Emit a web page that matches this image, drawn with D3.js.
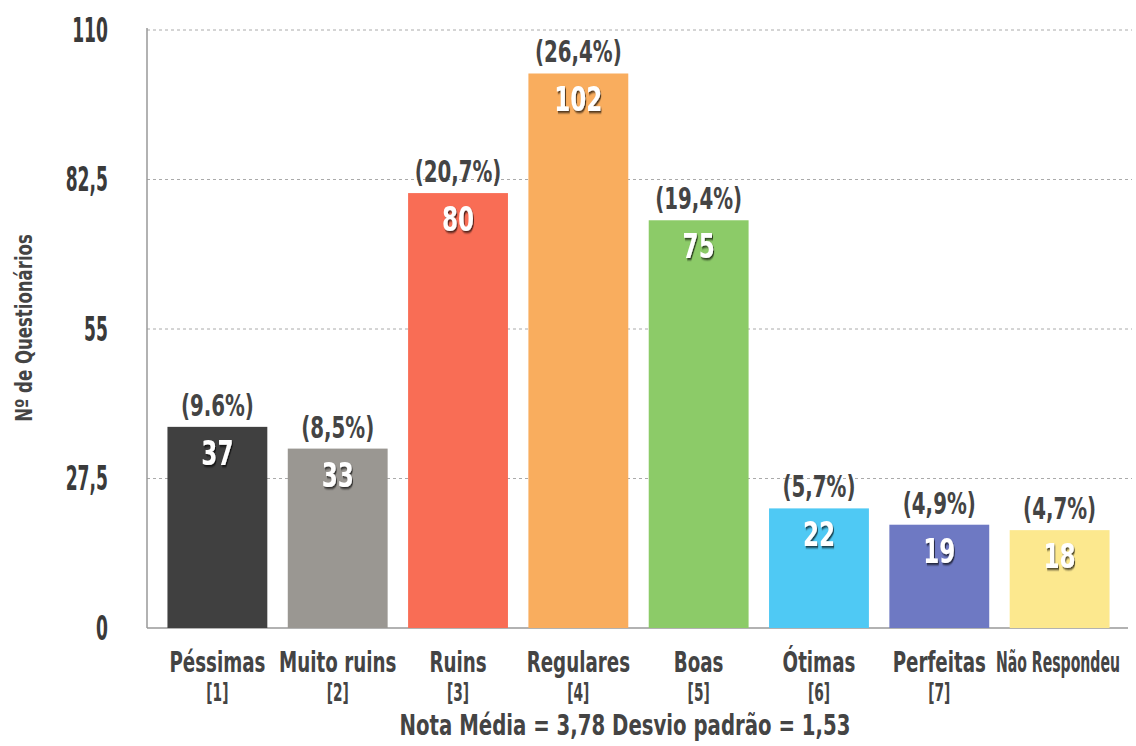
<!DOCTYPE html>
<html>
<head>
<meta charset="utf-8">
<script src="https://cdn.jsdelivr.net/npm/d3@7"></script>
<style>
  body { margin: 0; background: #fff; }
  text { font-family: "DejaVu Sans", sans-serif; font-weight: bold; }
</style>
</head>
<body>
<div id="chart"></div>
<script>
const categories = ["Péssimas", "Muito ruins", "Ruins", "Regulares", "Boas", "Ótimas", "Perfeitas", "Não Respondeu"]
const codes = ["[1]", "[2]", "[3]", "[4]", "[5]", "[6]", "[7]", ""]
const values = [37, 33, 80, 102, 75, 22, 19, 18]
const percents = ["(9.6%)", "(8,5%)", "(20,7%)", "(26,4%)", "(19,4%)", "(5,7%)", "(4,9%)", "(4,7%)"]
const yTicks = [0, 27.5, 55, 82.5, 110]
const yTickLabels = ["0", "27,5", "55", "82,5", "110"]

const palette = ['#404040', '#9a9792', '#f96d55', '#f9ad5e', '#8ccb68', '#4fc9f4', '#6e79c3', '#fce88e']

const width = 1136, height = 746
const margin = {top: 30, right: 6, bottom: 118, left: 147}

const svg = d3.select("#chart").append("svg")
  .attr("width", width)
  .attr("height", height)

const defs = svg.append("defs")
const f = defs.append("filter").attr("id", "shadow").attr("x", "-20%").attr("y", "-20%").attr("width", "150%").attr("height", "150%")
f.append("feDropShadow").attr("dx", 1.5).attr("dy", 2).attr("stdDeviation", 0.8).attr("flood-color", "#000").attr("flood-opacity", 0.7)

const x = d3.scaleBand()
  .domain(categories)
  .range([margin.left, width - margin.right])
  .paddingInner(0.17)
  .paddingOuter(0.17)

const y = d3.scaleLinear()
  .domain([0, 110])
  .range([height - margin.bottom, margin.top])

// narrow text: no condensed display font available, so squeeze horizontally
function narrow(sel, px, py, sx) {
  return sel.attr("transform", (d, i) => "translate(" + px(d, i) + "," + py(d, i) + ") scale(" + sx + ",1)")
}

// grid
svg.append("g").selectAll("line")
  .data(yTicks.filter(d => d > 0))
  .enter().append("line")
  .attr("x1", margin.left).attr("x2", width - 4)
  .attr("y1", d => y(d)).attr("y2", d => y(d))
  .attr("stroke", "#aaa")
  .attr("stroke-width", 1)
  .attr("stroke-dasharray", "3,3")

// y labels
narrow(svg.append("g").selectAll("text")
  .data(yTicks)
  .enter().append("text"), d => 108, d => y(d), 0.52)
  .attr("dy", "0.36em")
  .attr("text-anchor", "end")
  .attr("fill", "#3a3a3a")
  .style("font-size", "33px")
  .text((d, i) => yTickLabels[i])

// axes lines
svg.append("line")
  .attr("x1", margin.left).attr("x2", margin.left)
  .attr("y1", margin.top - 2).attr("y2", y(0))
  .attr("stroke", "#999").attr("stroke-width", 1.5)
svg.append("line")
  .attr("x1", margin.left).attr("x2", width - 8)
  .attr("y1", y(0)).attr("y2", y(0))
  .attr("stroke", "#999").attr("stroke-width", 1.5)

const mid = (d, i) => x(categories[i]) + x.bandwidth() / 2

const bars = svg.append("g").selectAll("g")
  .data(values)
  .enter().append("g")

bars.append("rect")
  .attr("x", (d, i) => x(categories[i]))
  .attr("y", d => y(d))
  .attr("width", x.bandwidth())
  .attr("height", d => y(0) - y(d))
  .attr("fill", (d, i) => palette[i])

narrow(bars.append("text"), mid, d => y(d) + 38, 0.7)
  .attr("text-anchor", "middle")
  .attr("fill", "#fff")
  .attr("filter", "url(#shadow)")
  .style("font-size", "33px")
  .text(d => d)

narrow(bars.append("text"), mid, d => y(d) - 11, 0.66)
  .attr("text-anchor", "middle")
  .attr("fill", "#444")
  .style("font-size", "30px")
  .text((d, i) => percents[i])

// category labels, squeezed further if wider than 124px and kept inside the frame
const catLabels = svg.append("g").selectAll("text")
  .data(categories)
  .enter().append("text")
  .attr("text-anchor", "middle")
  .attr("fill", "#444")
  .style("font-size", "29px")
  .text(d => d)

catLabels.each(function(d, i) {
  const w = this.getComputedTextLength()
  const sx = Math.min(0.63, 124 / w)
  let cx = mid(d, i)
  if (cx + w * sx / 2 > width - 16) cx = width - 16 - w * sx / 2
  d3.select(this).attr("transform", "translate(" + cx + ",672) scale(" + sx + ",1)")
})

narrow(svg.append("g").selectAll("text")
  .data(codes)
  .enter().append("text"), (d, i) => mid(d, i), () => 701, 0.55)
  .attr("text-anchor", "middle")
  .attr("fill", "#444")
  .style("font-size", "25px")
  .text(d => d)

svg.append("text")
  .attr("transform", "translate(625,735) scale(0.68,1)")
  .attr("text-anchor", "middle")
  .attr("fill", "#444")
  .style("font-size", "29px")
  .text("Nota Média = 3,78 Desvio padrão = 1,53")

svg.append("text")
  .attr("transform", "translate(32,328) rotate(-90) scale(0.72,1)")
  .attr("text-anchor", "middle")
  .attr("fill", "#444")
  .style("font-size", "23px")
  .text("Nº de Questionários")
</script>
</body>
</html>
